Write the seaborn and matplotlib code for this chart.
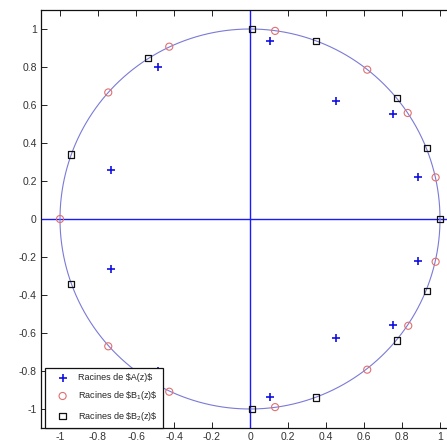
import numpy as np
import pandas as pd
import matplotlib
matplotlib.use("Agg")
import matplotlib.pyplot as plt
import seaborn as sns

a_re = [-0.73, -0.484, 0.105, 0.453, 0.753, 0.884, 0.884, 0.754, 0.453, 0.105, -0.484, -0.73]
a_im = [0.26, 0.80, 0.935, 0.62, 0.555, 0.22, -0.22, -0.558, -0.628, -0.935, -0.80, -0.263]
b1_re = [-1.0, -0.746, -0.425, 0.132, 0.617, 0.83, 0.977, 0.977, 0.833, 0.617, 0.132, -0.425, -0.746]
b1_im = [0.0, 0.666, 0.907, 0.99, 0.786, 0.558, 0.219, -0.225, -0.562, -0.793, -0.99, -0.909, -0.67]
b2_re = [1.0, 0.93, 0.772, 0.346, 0.012, -0.538, -0.942, -0.942, -0.538, 0.012, 0.346, 0.775, 0.93]
b2_im = [0.0, 0.372, 0.637, 0.937, 1.0, 0.847, 0.34, -0.342, -0.847, -1.0, -0.939, -0.64, -0.379]

labels = [r"Racines de \$A(z)\$", r"Racines de \$B$_1$(z)\$", r"Racines de \$B$_2$(z)\$"]
tick_vals = [-1, -0.8, -0.6, -0.4, -0.2, 0, 0.2, 0.4, 0.6, 0.8, 1]
tick_labels = ["-1", "-0.8", "-0.6", "-0.4", "-0.2", "0", "0.2", "0.4", "0.6", "0.8", "1"]

sns.set_style("white")
plt.rcParams["font.family"] = ["Liberation Sans", "DejaVu Sans"]
plt.rcParams["mathtext.fontset"] = "custom"
plt.rcParams["mathtext.rm"] = "Liberation Sans"
plt.rcParams["mathtext.it"] = "Liberation Sans"

fig = plt.figure(figsize=(4.47, 4.46), dpi=100)
W, H = 447, 446
ax = fig.add_axes([41 / W, (H - 428) / H, 418 / W, 418 / H])

# unit circle
theta = np.linspace(0, 2 * np.pi, 400)
circ = pd.DataFrame({"x": np.cos(theta), "y": np.sin(theta), "i": np.arange(400)})
sns.lineplot(data=circ, x="x", y="y", sort=False, estimator=None, ax=ax,
             color="#7a7ad8", lw=0.8, zorder=2)

ax.axhline(0, color="#1a1aff", lw=1.0, zorder=1)
ax.axvline(0, color="#1a1aff", lw=1.0, zorder=1)

sns.scatterplot(x=a_re, y=a_im, marker="+", s=36, color="#1010e0", linewidth=1.2,
                ax=ax, label=labels[0], zorder=4)
sns.scatterplot(x=b1_re, y=b1_im, marker="o", s=26, facecolor="none", edgecolor="#e07070",
                linewidth=0.8, ax=ax, label=labels[1], zorder=4)
sns.scatterplot(x=b2_re, y=b2_im, marker="s", s=20, facecolor="none", edgecolor="#111111",
                linewidth=0.9, ax=ax, label=labels[2], zorder=4)

ax.set_xlim(-1.1, 1.1)
ax.set_ylim(-1.1, 1.1)
ax.set_xticks(tick_vals)
ax.set_xticklabels(tick_labels)
ax.set_yticks(tick_vals)
ax.set_yticklabels(tick_labels)
ax.set_xlabel("")
ax.set_ylabel("")
ax.tick_params(direction="in", length=4, width=0.7, color="#222222",
               labelsize=7.5, labelcolor="#333333", top=True, right=True,
               bottom=True, left=True, pad=3)
for sp in ax.spines.values():
    sp.set_color("#111111")
    sp.set_linewidth(0.9)

leg = ax.legend(loc="lower left", bbox_to_anchor=(4 / 418, 0), borderaxespad=0,
                fontsize=6.5, frameon=True, fancybox=False, edgecolor="#111111",
                framealpha=1, handlelength=2.7, handletextpad=0.4,
                labelspacing=0.8, borderpad=0.6)
leg.get_frame().set_linewidth(0.9)
leg.set_zorder(10)

fig.savefig("out.png", dpi=100)
